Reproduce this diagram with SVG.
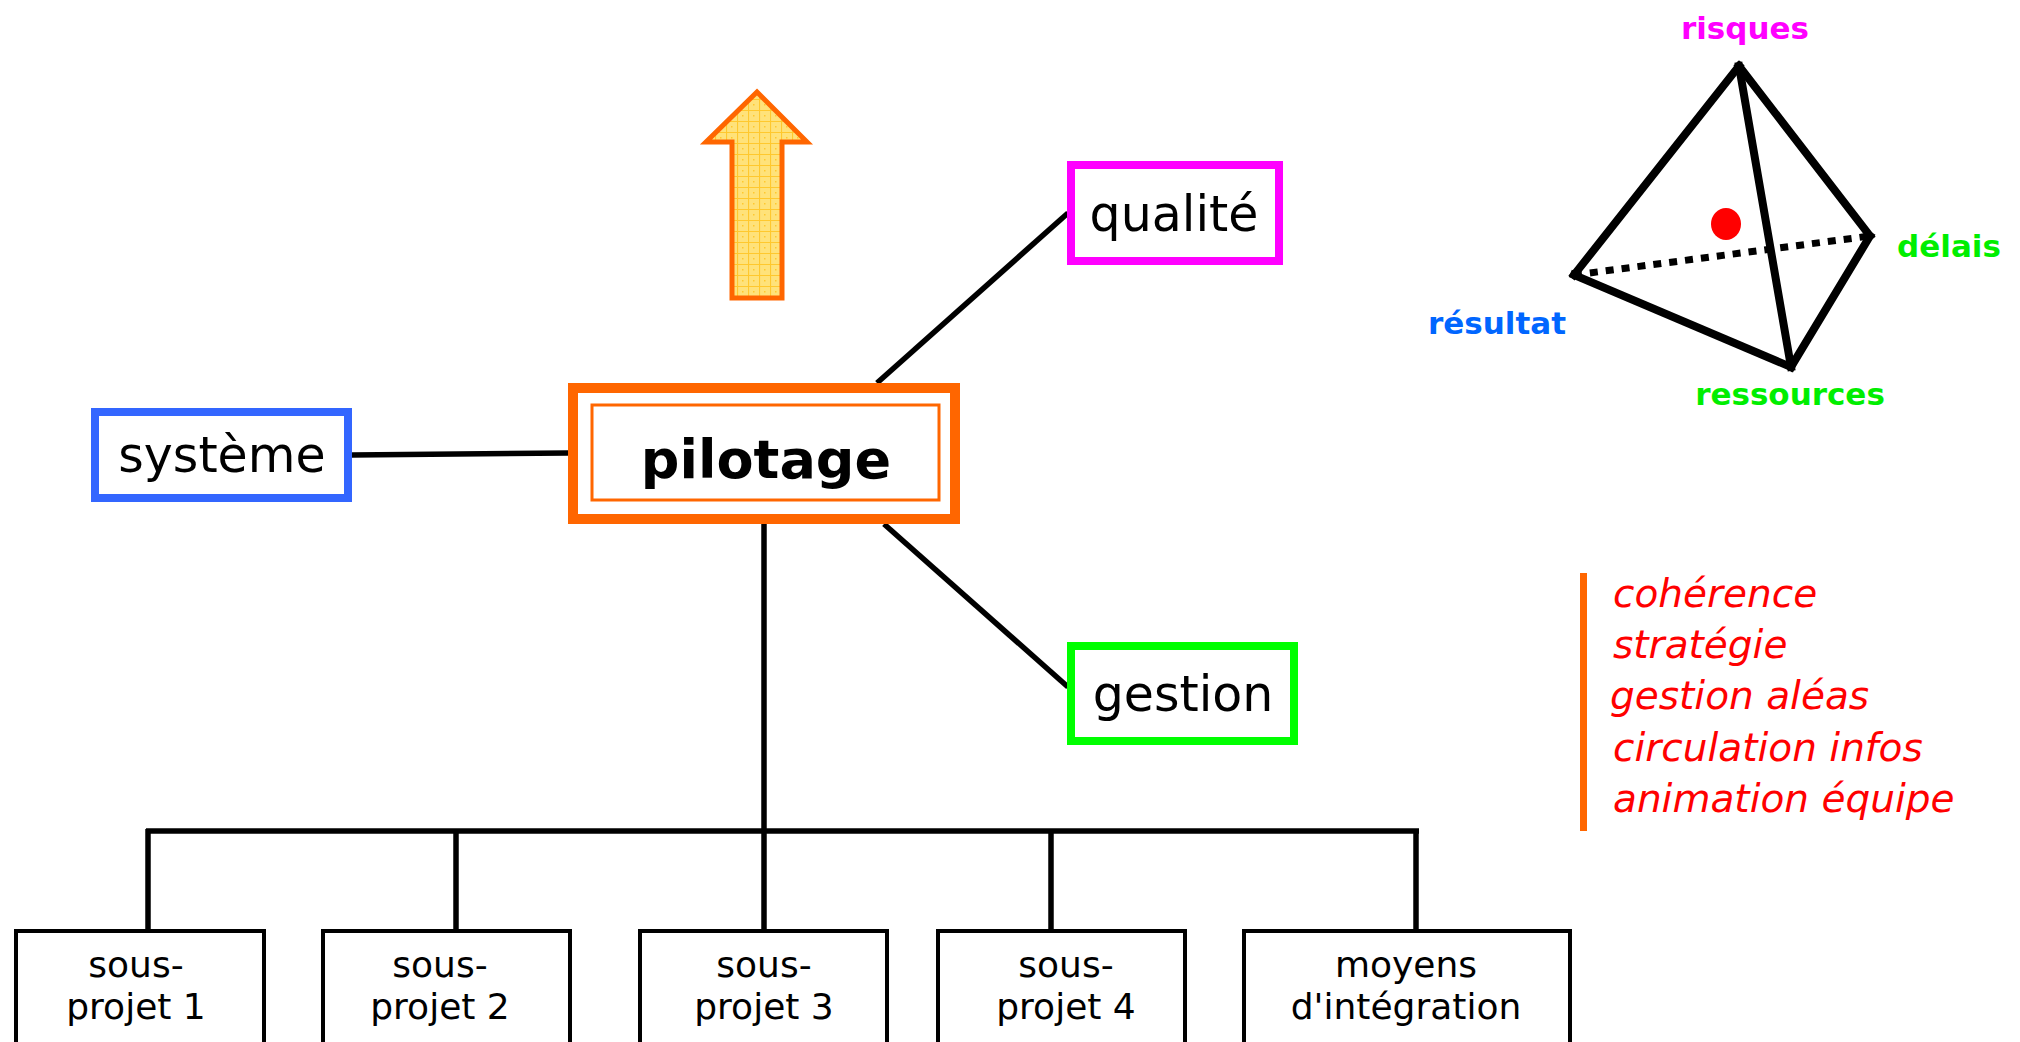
<svg xmlns="http://www.w3.org/2000/svg" width="2020" height="1042" viewBox="0 0 2020 1042">
<style>
.lbl{font-family:"DejaVu Sans","Liberation Sans",sans-serif;fill:#000;text-anchor:middle}
.big{font-size:49px}
.sub{font-size:36px}
.tet{font-family:"DejaVu Sans","Liberation Sans",sans-serif;font-weight:bold;font-size:31px;text-anchor:middle}
.red{font-family:"DejaVu Sans","Liberation Sans",sans-serif;font-style:italic;font-size:39px;fill:#FF0000}
.conn{stroke:#000;stroke-width:5.5;fill:none}
.box{fill:#fff;stroke:#000;stroke-width:4}
.edge{stroke:#000;stroke-width:8;stroke-linecap:square}
</style>
<defs>
<pattern id="grid" width="11" height="11" patternUnits="userSpaceOnUse">
<rect width="11" height="11" fill="#FFE27A"/>
<path d="M0 0.5H11M0.5 0V11" stroke="#FFC82E" stroke-width="1.2"/>
<rect x="5" y="5" width="1.5" height="1.5" fill="#FFC82E"/>
</pattern>
</defs>
<rect width="2020" height="1042" fill="#fff"/>

<g id="connectors">
<line class="conn" x1="352" y1="455" x2="568" y2="453"/>
<line class="conn" x1="877" y1="383" x2="1068" y2="213"/>
<line class="conn" x1="884" y1="524" x2="1068" y2="687"/>
<line class="conn" x1="764" y1="524" x2="764" y2="929"/>
<line class="conn" x1="146" y1="831" x2="1419" y2="831" stroke-width="6.5"/>
<line class="conn" x1="148" y1="829" x2="148" y2="929"/>
<line class="conn" x1="456" y1="829" x2="456" y2="929"/>
<line class="conn" x1="1051" y1="829" x2="1051" y2="929"/>
<line class="conn" x1="1416" y1="829" x2="1416" y2="929"/>
</g>

<g id="arrow">
<polygon points="757,92 807,142 782,142 782,298 732,298 732,142 706,142" fill="url(#grid)" stroke="#FF6600" stroke-width="5" stroke-linejoin="miter"/>
</g>

<g id="node-systeme">
<rect x="95" y="412" width="253" height="86" fill="#fff" stroke="#3366FF" stroke-width="8"/>
<text class="lbl big" x="222" y="472">système</text>
</g>

<g id="node-pilotage">
<rect x="573" y="388" width="382" height="131" fill="#fff" stroke="#FF6600" stroke-width="10"/>
<rect x="592" y="405" width="347" height="95" fill="none" stroke="#FF6600" stroke-width="3"/>
<text class="lbl" x="766" y="478" font-size="54" font-weight="bold">pilotage</text>
</g>

<g id="node-qualite">
<rect x="1071" y="165" width="208" height="96" fill="#fff" stroke="#FF00FF" stroke-width="8"/>
<text class="lbl big" x="1174" y="231">qualité</text>
</g>

<g id="node-gestion">
<rect x="1071" y="646" width="223" height="95" fill="#fff" stroke="#00FF00" stroke-width="8"/>
<text class="lbl big" x="1183" y="711">gestion</text>
</g>

<g id="node-sp1">
<rect class="box" x="16" y="931" width="248" height="130"/>
<text class="lbl sub" x="136" y="977">sous-</text>
<text class="lbl sub" x="136" y="1019">projet 1</text>
</g>
<g id="node-sp2">
<rect class="box" x="323" y="931" width="247" height="130"/>
<text class="lbl sub" x="440" y="977">sous-</text>
<text class="lbl sub" x="440" y="1019">projet 2</text>
</g>
<g id="node-sp3">
<rect class="box" x="640" y="931" width="247" height="130"/>
<text class="lbl sub" x="764" y="977">sous-</text>
<text class="lbl sub" x="764" y="1019">projet 3</text>
</g>
<g id="node-sp4">
<rect class="box" x="938" y="931" width="247" height="130"/>
<text class="lbl sub" x="1066" y="977">sous-</text>
<text class="lbl sub" x="1066" y="1019">projet 4</text>
</g>
<g id="node-moyens">
<rect class="box" x="1244" y="931" width="326" height="130"/>
<text class="lbl sub" x="1406" y="977">moyens</text>
<text class="lbl sub" x="1406" y="1019">d'intégration</text>
</g>

<g id="tetrahedron">
<line x1="1574" y1="275" x2="1870" y2="236" stroke="#000" stroke-width="7" stroke-dasharray="8 8"/>
<line class="edge" x1="1739" y1="66" x2="1574" y2="275"/>
<line class="edge" x1="1739" y1="66" x2="1870" y2="236"/>
<line class="edge" x1="1739" y1="66" x2="1791" y2="367"/>
<line class="edge" x1="1574" y1="275" x2="1791" y2="367"/>
<line class="edge" x1="1870" y1="236" x2="1791" y2="367"/>
<ellipse cx="1726" cy="224" rx="15" ry="16" fill="#FF0000"/>
<text class="tet" x="1745" y="39" fill="#FF00FF">risques</text>
<text class="tet" x="1949" y="257" fill="#00EE00">délais</text>
<text class="tet" x="1497" y="334" fill="#0066FF">résultat</text>
<text class="tet" x="1790" y="405" fill="#00EE00">ressources</text>
</g>

<g id="notes">
<rect x="1580" y="573" width="7" height="258" fill="#FF6600"/>
<text class="red" x="1613" y="607">cohérence</text>
<text class="red" x="1613" y="658">stratégie</text>
<text class="red" x="1610" y="709">gestion aléas</text>
<text class="red" x="1613" y="761">circulation infos</text>
<text class="red" x="1613" y="812">animation équipe</text>
</g>
</svg>
